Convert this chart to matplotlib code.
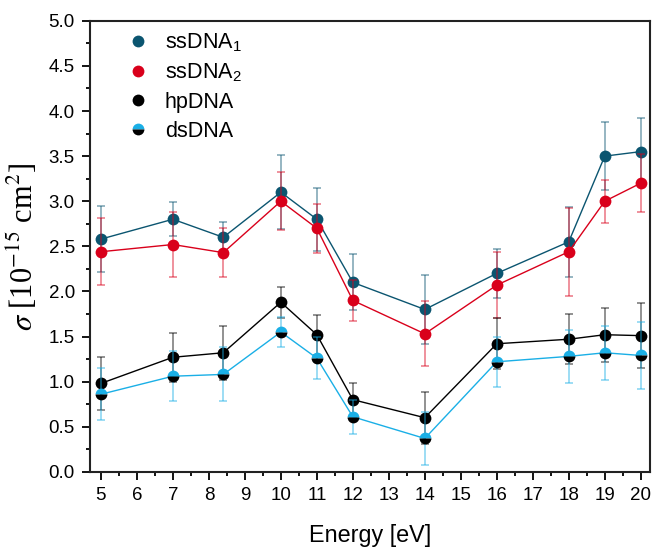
import numpy as np
import matplotlib.pyplot as plt
from matplotlib.lines import Line2D

plt.rcParams['font.family'] = 'Liberation Sans'
plt.rcParams['mathtext.fontset'] = 'stix'

energy = [5, 7, 8.4, 10, 11, 12, 14, 16, 18, 19, 20]

ss1 = [2.58, 2.80, 2.60, 3.10, 2.80, 2.10, 1.80, 2.20, 2.55, 3.50, 3.55]
ss1_err = [0.37, 0.19, 0.17, 0.41, 0.35, 0.31, 0.38, 0.27, 0.39, 0.38, 0.37]

ss2 = [2.44, 2.52, 2.43, 3.00, 2.70, 1.90, 1.53, 2.07, 2.44, 3.00, 3.20]
ss2_err = [0.37, 0.36, 0.27, 0.32, 0.27, 0.23, 0.36, 0.37, 0.49, 0.24, 0.32]

hp = [0.98, 1.27, 1.32, 1.88, 1.52, 0.80, 0.60, 1.42, 1.47, 1.52, 1.51]
hp_err = [0.29, 0.27, 0.30, 0.17, 0.22, 0.19, 0.29, 0.28, 0.28, 0.30, 0.36]

ds = [0.86, 1.06, 1.08, 1.55, 1.26, 0.61, 0.37, 1.22, 1.28, 1.32, 1.29]
ds_err = [0.29, 0.28, 0.30, 0.17, 0.23, 0.19, 0.29, 0.28, 0.29, 0.30, 0.37]

c_ss1 = '#0b5570'
c_ss2 = '#d9001b'
c_hp = '#000000'
c_ds = '#1aafe6'

fig = plt.figure(figsize=(6.53, 5.48), dpi=100)
ax = fig.add_axes([0.138, 0.139, 0.857, 0.823])

series = [
    (ss1, ss1_err, c_ss1, 'full'),
    (ss2, ss2_err, c_ss2, 'full'),
    (hp, hp_err, c_hp, 'full'),
    (ds, ds_err, c_ds, 'top'),
]
for y, e, c, fs in series:
    ax.errorbar(energy, y, yerr=e, fmt='none', ecolor=c, elinewidth=1.2,
                capsize=3, capthick=1.2, alpha=0.5)
    ax.plot(energy, y, '-', color=c, lw=1)
    ax.plot(energy, y, 'o', ms=8.5, mew=0, color=c, fillstyle=fs,
            markerfacecoloralt='black')

ax.set_xlim(4.7, 20.25)
ax.set_ylim(0, 5)
ax.set_xticks(np.arange(5, 21, 1))
ax.set_xticks(np.arange(5.5, 20.5, 1), minor=True)
ax.set_yticks(np.arange(0, 5.01, 0.5))
ax.set_yticks(np.arange(0.25, 5, 0.5), minor=True)
ax.set_yticklabels(['%.1f' % v for v in np.arange(0, 5.01, 0.5)])
ax.tick_params(which='major', direction='out', length=6, width=1.3, labelsize=13.5, pad=5)
ax.tick_params(which='minor', direction='out', length=3, width=1.3)
for s in ax.spines.values():
    s.set_linewidth(1.5)
    s.set_color('#222222')

ax.set_xlabel('Energy [eV]', fontsize=16.8, labelpad=14)
ax.set_ylabel(r'$\sigma$ [10$^{-15}$ cm$^{2}$]', fontsize=22,
              fontfamily='Liberation Serif', labelpad=6)

handles = [
    Line2D([], [], ls='', marker='o', ms=8.5, mew=0, color=c_ss1),
    Line2D([], [], ls='', marker='o', ms=8.5, mew=0, color=c_ss2),
    Line2D([], [], ls='', marker='o', ms=8.5, mew=0, color=c_hp),
    Line2D([], [], ls='', marker='o', ms=8.5, mew=0, color=c_ds,
           fillstyle='top', markerfacecoloralt='black'),
]
labels = [r'ssDNA$_\mathregular{1}$', r'ssDNA$_\mathregular{2}$', 'hpDNA', 'dsDNA']
ax.legend(handles, labels, loc='upper left', frameon=False, fontsize=15.5,
          bbox_to_anchor=(0.02, 1.02), handletextpad=0.45, labelspacing=0.38,
          handlelength=1.6)

fig.savefig('out.png', dpi=100)
